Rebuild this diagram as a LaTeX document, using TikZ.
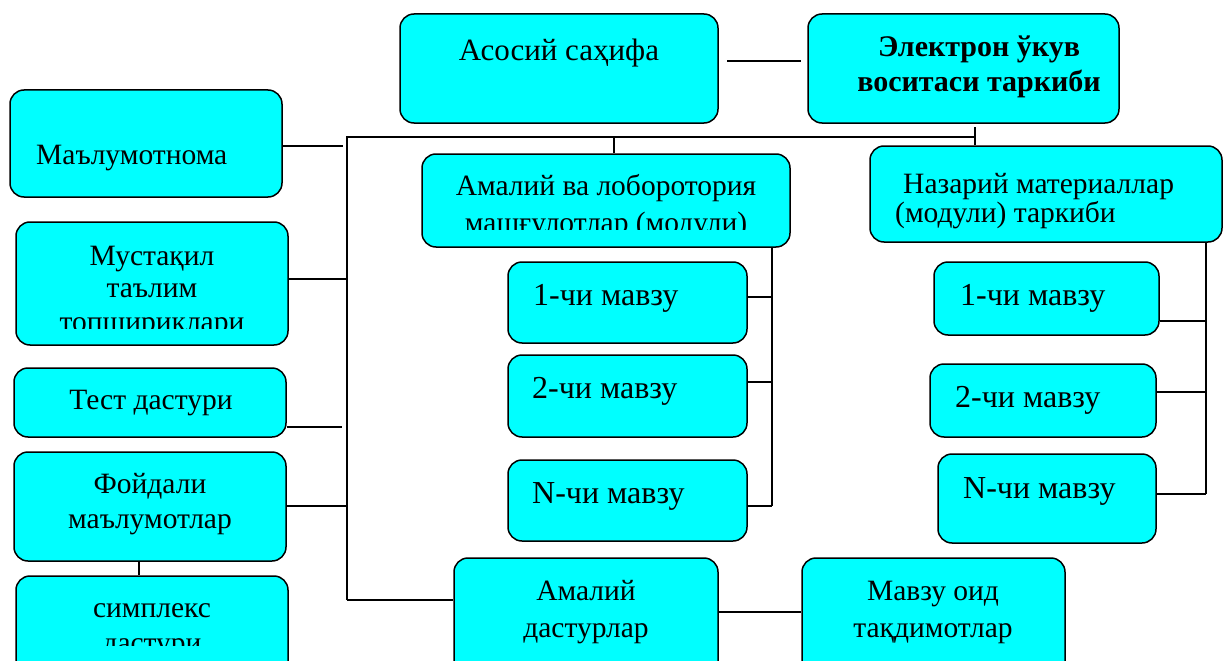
\documentclass[tikz,border=0pt]{standalone}
\usepackage{fontspec}
\setmainfont{Liberation Serif}
\usetikzlibrary{fit}
\definecolor{boxfill}{RGB}{0,255,255}
\tikzset{
  box/.style={draw=black, line width=1.5pt, fill=boxfill, rounded corners=14pt, inner sep=0pt},
  conn/.style={draw=black, line width=1.8pt},
  lbl/.style={anchor=base, inner sep=0pt, font=\fontsize{29.5}{34}\selectfont},
  lblw/.style={anchor=base west, inner sep=0pt, font=\fontsize{29.5}{34}\selectfont},
  bold/.style={font=\fontsize{30}{34}\selectfont\bfseries},
  topic/.style={font=\fontsize{32}{36}\selectfont},
  home/.style={font=\fontsize{31}{36}\selectfont},
}
% box from its top-left to its bottom-right corner
\newcommand\panel[5]{\node[box, fit={(#2,#3) (#4,#5)}] (#1) {};}
\begin{document}
\begin{tikzpicture}[x=1pt, y=-1pt]
\useasboundingbox (0,0) rectangle (1224,661);

% ---------- boxes ----------
\panel{home}{400}{14}{718}{123}
\panel{main}{808}{14}{1119}{123}
\panel{ref}{10}{90}{282}{197}
\panel{self}{16}{222}{288}{345}
\panel{test}{14}{368}{286}{437}
\panel{useful}{14}{452}{286}{561}
\panel{simplex}{16}{576}{288}{690}
\panel{lab}{422}{154}{790}{247}
\panel{theory}{870}{146}{1222}{242}
\panel{labA}{508}{262}{747}{343}
\panel{labB}{508}{355}{747}{437}
\panel{labN}{508}{460}{747}{541}
\panel{thA}{934}{262}{1159}{335}
\panel{thB}{930}{364}{1156}{437}
\panel{thN}{938}{454}{1156}{543}
\panel{apps}{454}{558}{718}{690}
\panel{slides}{802}{558}{1065}{690}

% ---------- texts ----------
\node[lbl, home] (t-home) at (559,61) {Асосий саҳифа};
\node[lbl, bold] (t-main1) at (979,57) {Электрон ўкув};
\node[lbl, bold] (t-main2) at (979,92) {воситаси таркиби};
\node[lblw] (t-ref) at (36,164) {Маълумотнома};
\node[lbl] (t-self1) at (152,265) {Мустақил};
\node[lbl] (t-self2) at (152,297) {таълим};
\begin{scope}
  \clip (20,300) rectangle (284,328);
  \node[lbl] (t-self3) at (152,331) {топшириклари};
\end{scope}
\node[lbl] (t-test) at (151,409) {Тест дастури};
\node[lbl] (t-useful1) at (150,493) {Фойдали};
\node[lbl] (t-useful2) at (150,528) {маълумотлар};
\node[lbl] (t-simplex1) at (152,617) {симплекс};
\begin{scope}
  \clip (20,625) rectangle (284,645);
  \node[lbl] (t-simplex2) at (152,652) {дастури};
\end{scope}
\node[lbl] (t-lab1) at (606,195) {Амалий ва лоборотория};
\begin{scope}
  \clip (426,205) rectangle (786,229);
  \node[lbl] (t-lab2) at (606,232) {машғулотлар (модули)};
\end{scope}
\node[lblw] (t-theory1) at (903,193) {Назарий материаллар};
\node[lblw] (t-theory2) at (895,222) {(модули) таркиби};
\node[lblw, topic] (t-labA) at (533,305) {1-чи мавзу};
\node[lblw, topic] (t-labB) at (532,398) {2-чи мавзу};
\node[lblw, topic] (t-labN) at (532,503) {N-чи мавзу};
\node[lblw, topic] (t-thA) at (960,305) {1-чи мавзу};
\node[lblw, topic] (t-thB) at (955,407) {2-чи мавзу};
\node[lblw, topic] (t-thN) at (963,498) {N-чи мавзу};
\node[lbl] (t-apps1) at (586,600) {Амалий};
\node[lbl] (t-apps2) at (586,637) {дастурлар};
\node[lbl] (t-slides1) at (933,600) {Мавзу оид};
\node[lbl] (t-slides2) at (933,637) {тақдимотлар};

% ---------- bus junctions ----------
\coordinate (busTL) at (347,137);
\coordinate (busTR) at (975,137);
\coordinate (busBL) at (347,600);
\coordinate (labTop) at (614,137);
\coordinate (mainLow) at (975,127);
\coordinate (homeEnd) at (727,61);
\coordinate (mainEnd) at (801,61);
\coordinate (labBusTop) at (772,247);
\coordinate (labBusBot) at (772,506);
\coordinate (thBusTop) at (1206,242);
\coordinate (thBusBot) at (1206,494);

% ---------- connectors ----------
\draw[conn] (homeEnd) -- (mainEnd);
\draw[conn] (busBL) -- (busTL) -- (busTR);
\draw[conn] (mainLow) -- (theory.north -| mainLow);
\draw[conn] (labTop) -- (lab.north -| labTop);
\draw[conn] (ref.east |- 0,146) -- (343,146);
\draw[conn] (self.east |- 0,279) -- (busTL |- 0,279);
\draw[conn] (test.east |- 0,427) -- (342,427);
\draw[conn] (useful.east |- 0,506) -- (busTL |- 0,506);
\draw[conn] (busBL) -- (apps.west |- busBL);
\draw[conn] (useful.south -| 139,0) -- (simplex.north -| 139,0);
\draw[conn] (apps.east |- 0,612) -- (slides.west |- 0,612);
% practical topics
\draw[conn] (labBusTop) -- (labBusBot);
\draw[conn] (labA.east |- 0,297) -- (labBusTop |- 0,297);
\draw[conn] (labB.east |- 0,382) -- (labBusTop |- 0,382);
\draw[conn] (labN.east |- labBusBot) -- (labBusBot);
% theory topics
\draw[conn] (thBusTop) -- (thBusBot);
\draw[conn] (thA.east |- 0,321) -- (thBusTop |- 0,321);
\draw[conn] (thB.east |- 0,392) -- (thBusTop |- 0,392);
\draw[conn] (thN.east |- thBusBot) -- (thBusBot);
\end{tikzpicture}
\end{document}
